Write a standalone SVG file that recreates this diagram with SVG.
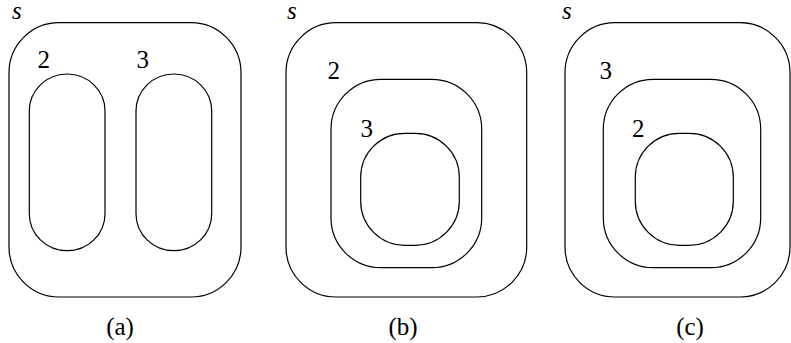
<svg xmlns="http://www.w3.org/2000/svg" width="791" height="343" viewBox="0 0 791 343">
<style>
.r{fill:none;stroke:#000;stroke-width:1.2}
</style>
<rect x="0" y="0" width="791" height="343" fill="#fff"/>
<g id="panel-a">
  <g id="a-s"><rect class="r" x="9" y="22.7" width="232" height="274.3" rx="50" ry="50"/><text x="12" y="19" font-family="Liberation Serif" font-size="25" font-style="italic">s</text></g>
  <g id="a-2"><rect class="r" x="29.3" y="74" width="75.7" height="176.7" rx="37.8" ry="37"/><text x="37.5" y="68" font-family="Liberation Serif" font-size="25">2</text></g>
  <g id="a-3"><rect class="r" x="136" y="74" width="75.7" height="176.7" rx="37.8" ry="37"/><text x="136.5" y="68" font-family="Liberation Serif" font-size="25">3</text></g>
  <text x="120" y="335" font-family="Liberation Serif" font-size="25" text-anchor="middle">(a)</text>
</g>
<g id="panel-b">
  <g id="b-s"><rect class="r" x="286" y="22.7" width="240.7" height="274.3" rx="50" ry="50"/><text x="287" y="19" font-family="Liberation Serif" font-size="25" font-style="italic">s</text></g>
  <g id="b-2"><rect class="r" x="331" y="79.3" width="150.7" height="188.4" rx="50" ry="50"/><text x="327.5" y="79" font-family="Liberation Serif" font-size="25">2</text></g>
  <g id="b-3"><rect class="r" x="360.7" y="133.3" width="98.6" height="112" rx="44" ry="44"/><text x="360.5" y="137" font-family="Liberation Serif" font-size="25">3</text></g>
  <text x="403" y="335" font-family="Liberation Serif" font-size="25" text-anchor="middle">(b)</text>
</g>
<g id="panel-c">
  <g id="c-s"><rect class="r" x="565" y="22.7" width="225" height="274.3" rx="50" ry="50"/><text x="562" y="19" font-family="Liberation Serif" font-size="25" font-style="italic">s</text></g>
  <g id="c-3"><rect class="r" x="603.3" y="79.3" width="157.4" height="188.4" rx="50" ry="50"/><text x="599.5" y="79" font-family="Liberation Serif" font-size="25">3</text></g>
  <g id="c-2"><rect class="r" x="635.3" y="133.3" width="98" height="112" rx="44" ry="44"/><text x="632" y="137" font-family="Liberation Serif" font-size="25">2</text></g>
  <text x="690" y="335" font-family="Liberation Serif" font-size="25" text-anchor="middle">(c)</text>
</g>
<g id="connectors"/>
</svg>
